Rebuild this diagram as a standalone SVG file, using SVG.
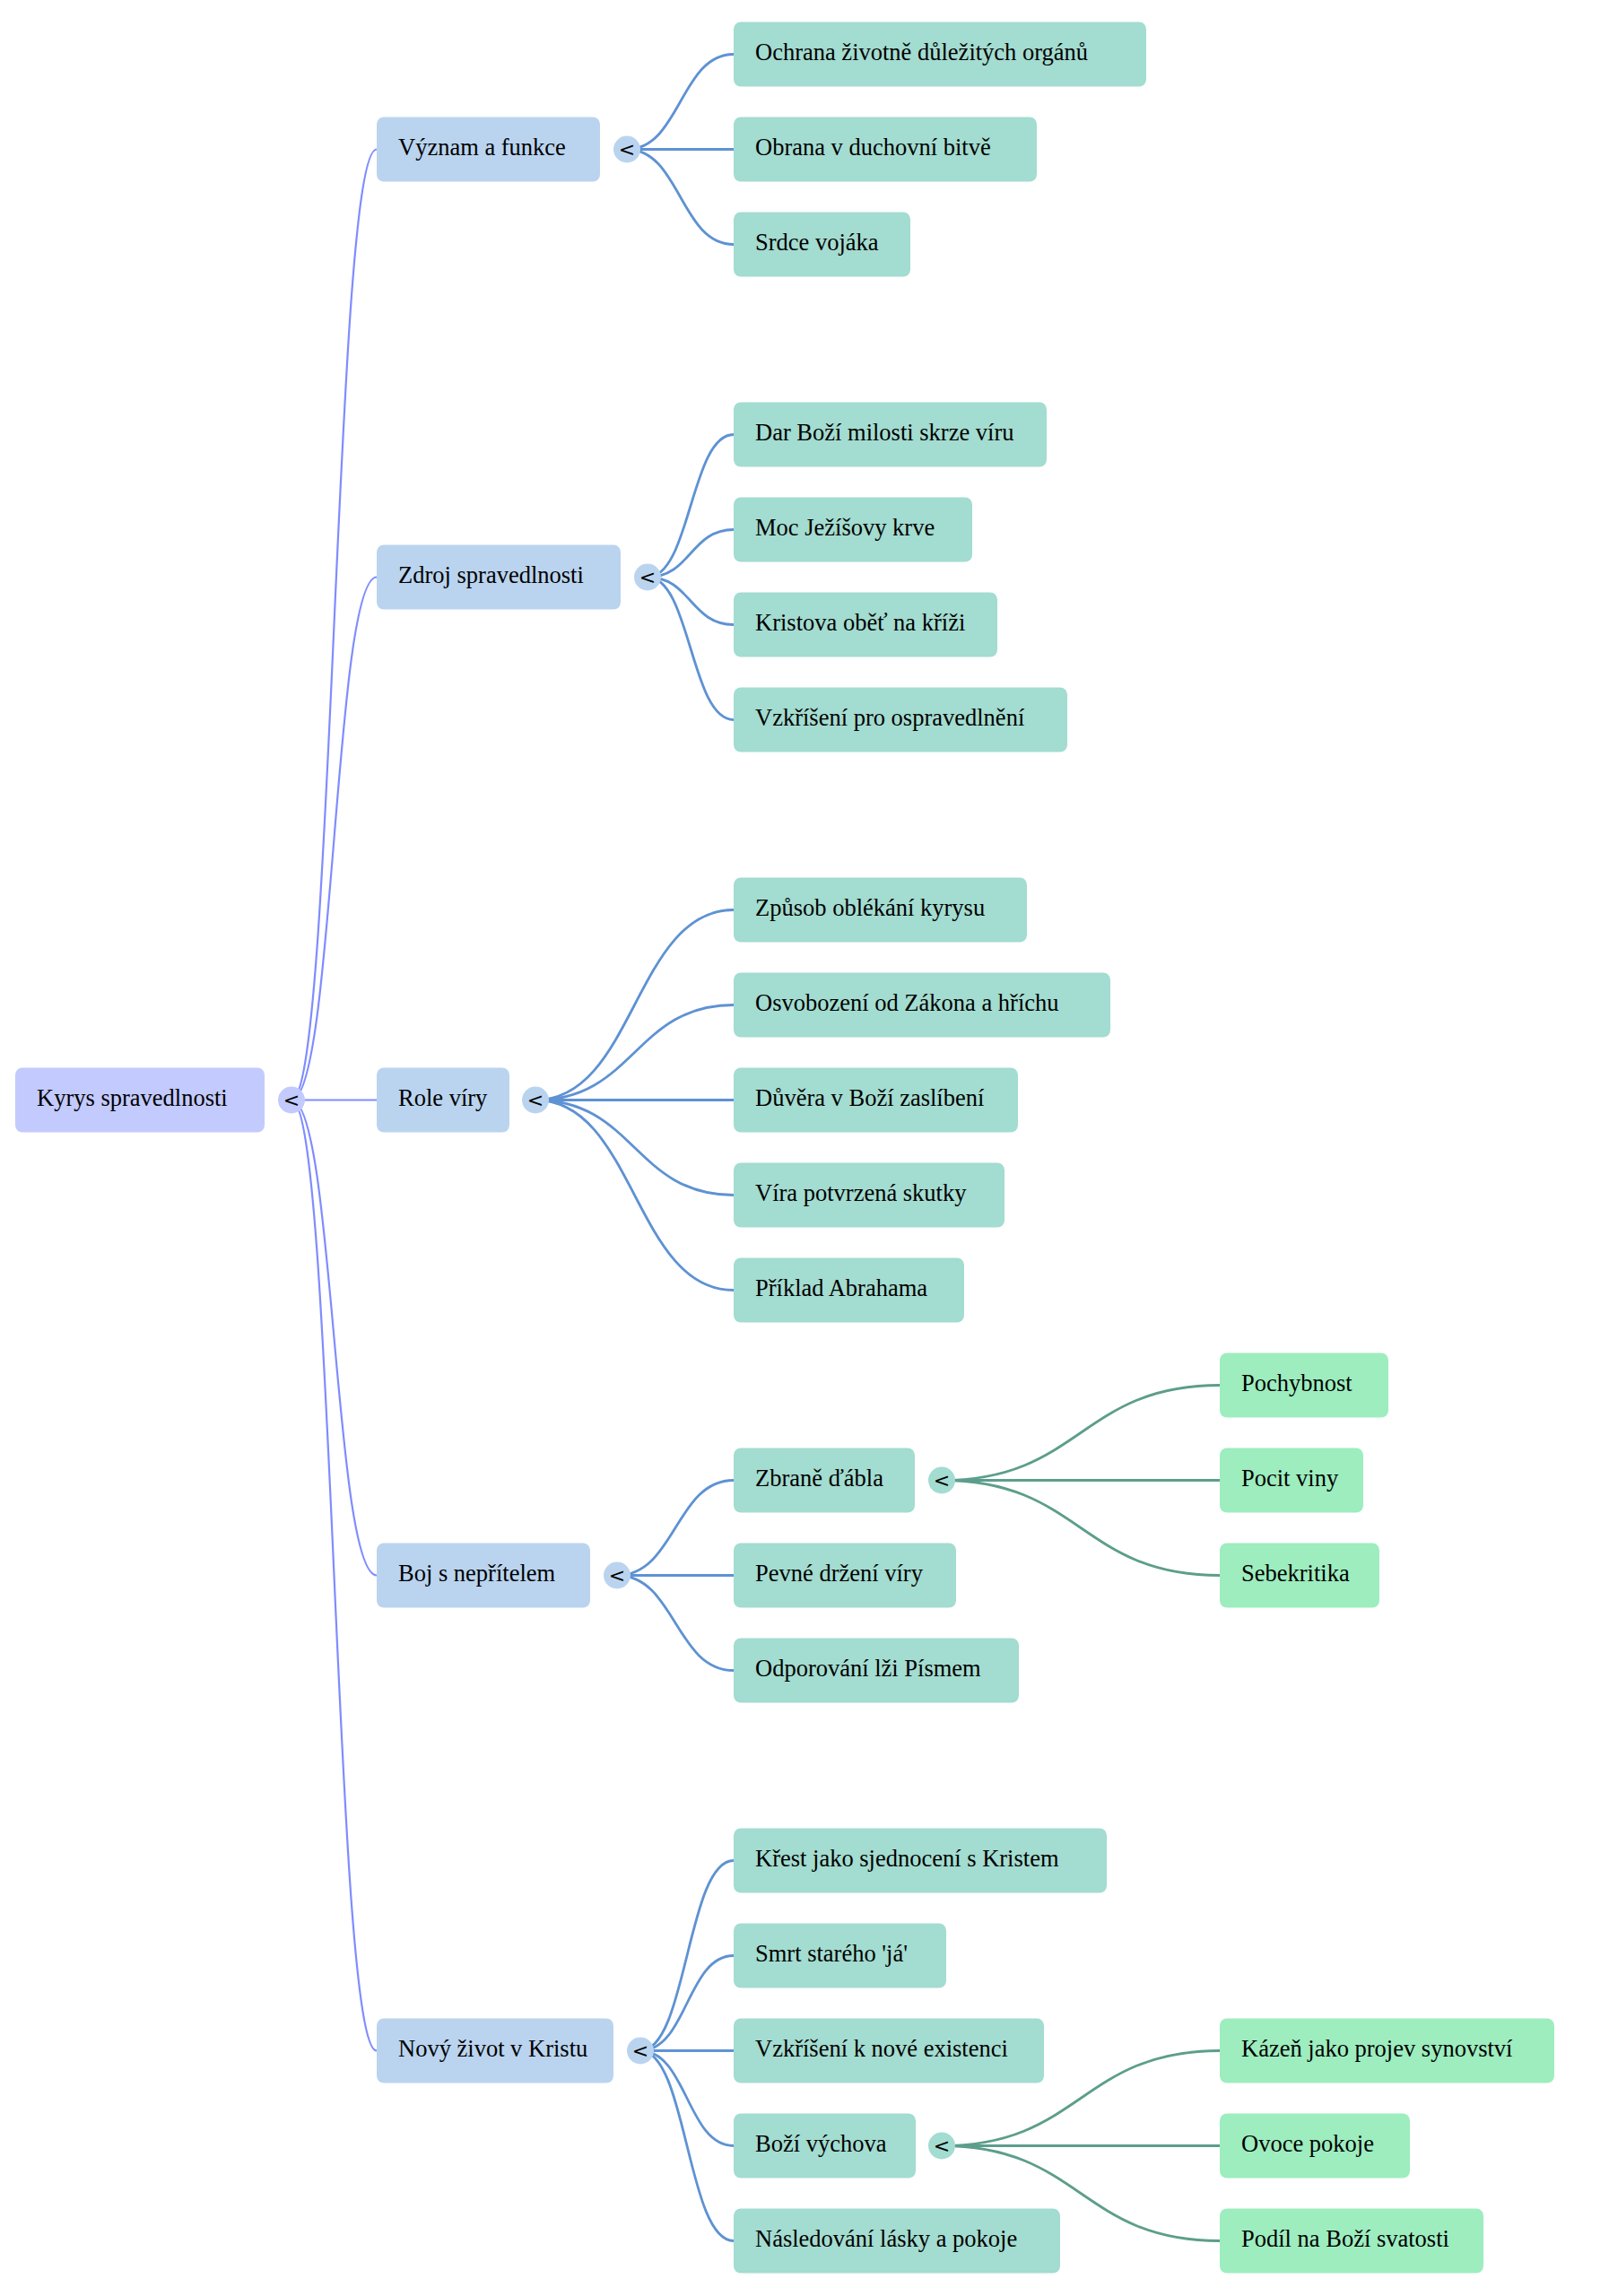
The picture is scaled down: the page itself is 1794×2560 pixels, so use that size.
<svg xmlns="http://www.w3.org/2000/svg" width="1794" height="2560" viewBox="0 0 1794 2560">
<style>
.t{font-family:"Liberation Serif","Times New Roman",serif;font-size:26.5px;fill:#000}
.c{font-family:"DejaVu Sans",sans-serif;font-size:22px;fill:#000;text-anchor:middle}
.n0{fill:#C3CAFE}
.n1{fill:#BAD4EF}
.n2{fill:#A3DCD0}
.n3{fill:#9DEDBF}
.e0{fill:none;stroke:#7F8CFF;stroke-width:2.2}
.e1{fill:none;stroke:#5E92D3;stroke-width:2.8}
.e2{fill:none;stroke:#5C9E8B;stroke-width:2.8}
</style>
<rect width="1794" height="2560" fill="#fff"/>
<g id="connectors">
<path class="e0" d="M325,1226.5 C372.5,1226.5 372.5,166.5 420,166.5"/>
<path class="e0" d="M325,1226.5 C372.5,1226.5 372.5,643.5 420,643.5"/>
<path class="e0" d="M325,1226.5 L420,1226.5"/>
<path class="e0" d="M325,1226.5 C372.5,1226.5 372.5,1756.5 420,1756.5"/>
<path class="e0" d="M325,1226.5 C372.5,1226.5 372.5,2286.5 420,2286.5"/>
<path class="e1" d="M699,166.5 C758.5,166.5 758.5,60.5 818,60.5"/>
<path class="e1" d="M699,166.5 L818,166.5"/>
<path class="e1" d="M699,166.5 C758.5,166.5 758.5,272.5 818,272.5"/>
<path class="e1" d="M722,643.5 C770,643.5 770,484.5 818,484.5"/>
<path class="e1" d="M722,643.5 C770,643.5 770,590.5 818,590.5"/>
<path class="e1" d="M722,643.5 C770,643.5 770,696.5 818,696.5"/>
<path class="e1" d="M722,643.5 C770,643.5 770,802.5 818,802.5"/>
<path class="e1" d="M597,1226.5 C707.5,1226.5 707.5,1014.5 818,1014.5"/>
<path class="e1" d="M597,1226.5 C707.5,1226.5 707.5,1120.5 818,1120.5"/>
<path class="e1" d="M597,1226.5 L818,1226.5"/>
<path class="e1" d="M597,1226.5 C707.5,1226.5 707.5,1332.5 818,1332.5"/>
<path class="e1" d="M597,1226.5 C707.5,1226.5 707.5,1438.5 818,1438.5"/>
<path class="e1" d="M688,1756.5 C753,1756.5 753,1650.5 818,1650.5"/>
<path class="e1" d="M688,1756.5 L818,1756.5"/>
<path class="e1" d="M688,1756.5 C753,1756.5 753,1862.5 818,1862.5"/>
<path class="e1" d="M714,2286.5 C766,2286.5 766,2074.5 818,2074.5"/>
<path class="e1" d="M714,2286.5 C766,2286.5 766,2180.5 818,2180.5"/>
<path class="e1" d="M714,2286.5 L818,2286.5"/>
<path class="e1" d="M714,2286.5 C766,2286.5 766,2392.5 818,2392.5"/>
<path class="e1" d="M714,2286.5 C766,2286.5 766,2498.5 818,2498.5"/>
<path class="e2" d="M1050,1650.5 C1205,1650.5 1205,1544.5 1360,1544.5"/>
<path class="e2" d="M1050,1650.5 L1360,1650.5"/>
<path class="e2" d="M1050,1650.5 C1205,1650.5 1205,1756.5 1360,1756.5"/>
<path class="e2" d="M1050,2392.5 C1205,2392.5 1205,2286.5 1360,2286.5"/>
<path class="e2" d="M1050,2392.5 L1360,2392.5"/>
<path class="e2" d="M1050,2392.5 C1205,2392.5 1205,2498.5 1360,2498.5"/>
</g>
<g id="root"><rect class="n0" x="17" y="1190.5" width="278" height="72" rx="8"/><text class="t" x="41" y="1233">Kyrys spravedlnosti</text><circle class="n0" cx="325" cy="1226.5" r="15"/><text class="c" x="325" y="1234">&lt;</text></g>
<g id="n-vyznam"><rect class="n1" x="420" y="130.5" width="249" height="72" rx="8"/><text class="t" x="444" y="173">Význam a funkce</text><circle class="n1" cx="699" cy="166.5" r="15"/><text class="c" x="699" y="174">&lt;</text></g>
<g id="n-zdroj"><rect class="n1" x="420" y="607.5" width="272" height="72" rx="8"/><text class="t" x="444" y="650">Zdroj spravedlnosti</text><circle class="n1" cx="722" cy="643.5" r="15"/><text class="c" x="722" y="651">&lt;</text></g>
<g id="n-role"><rect class="n1" x="420" y="1190.5" width="148" height="72" rx="8"/><text class="t" x="444" y="1233">Role víry</text><circle class="n1" cx="597" cy="1226.5" r="15"/><text class="c" x="597" y="1234">&lt;</text></g>
<g id="n-boj"><rect class="n1" x="420" y="1720.5" width="238" height="72" rx="8"/><text class="t" x="444" y="1763">Boj s nepřítelem</text><circle class="n1" cx="688" cy="1756.5" r="15"/><text class="c" x="688" y="1764">&lt;</text></g>
<g id="n-novy"><rect class="n1" x="420" y="2250.5" width="264" height="72" rx="8"/><text class="t" x="444" y="2293">Nový život v Kristu</text><circle class="n1" cx="714" cy="2286.5" r="15"/><text class="c" x="714" y="2294">&lt;</text></g>
<g id="l-ochrana"><rect class="n2" x="818" y="24.5" width="460" height="72" rx="8"/><text class="t" x="842" y="67">Ochrana životně důležitých orgánů</text></g>
<g id="l-obrana"><rect class="n2" x="818" y="130.5" width="338" height="72" rx="8"/><text class="t" x="842" y="173">Obrana v duchovní bitvě</text></g>
<g id="l-srdce"><rect class="n2" x="818" y="236.5" width="197" height="72" rx="8"/><text class="t" x="842" y="279">Srdce vojáka</text></g>
<g id="l-dar"><rect class="n2" x="818" y="448.5" width="349" height="72" rx="8"/><text class="t" x="842" y="491">Dar Boží milosti skrze víru</text></g>
<g id="l-moc"><rect class="n2" x="818" y="554.5" width="266" height="72" rx="8"/><text class="t" x="842" y="597">Moc Ježíšovy krve</text></g>
<g id="l-kristova"><rect class="n2" x="818" y="660.5" width="294" height="72" rx="8"/><text class="t" x="842" y="703">Kristova oběť na kříži</text></g>
<g id="l-vzkriseni1"><rect class="n2" x="818" y="766.5" width="372" height="72" rx="8"/><text class="t" x="842" y="809">Vzkříšení pro ospravedlnění</text></g>
<g id="l-zpusob"><rect class="n2" x="818" y="978.5" width="327" height="72" rx="8"/><text class="t" x="842" y="1021">Způsob oblékání kyrysu</text></g>
<g id="l-osvobozeni"><rect class="n2" x="818" y="1084.5" width="420" height="72" rx="8"/><text class="t" x="842" y="1127">Osvobození od Zákona a hříchu</text></g>
<g id="l-duvera"><rect class="n2" x="818" y="1190.5" width="317" height="72" rx="8"/><text class="t" x="842" y="1233">Důvěra v Boží zaslíbení</text></g>
<g id="l-vira"><rect class="n2" x="818" y="1296.5" width="302" height="72" rx="8"/><text class="t" x="842" y="1339">Víra potvrzená skutky</text></g>
<g id="l-priklad"><rect class="n2" x="818" y="1402.5" width="257" height="72" rx="8"/><text class="t" x="842" y="1445">Příklad Abrahama</text></g>
<g id="n-zbrane"><rect class="n2" x="818" y="1614.5" width="202" height="72" rx="8"/><text class="t" x="842" y="1657">Zbraně ďábla</text><circle class="n2" cx="1050" cy="1650.5" r="15"/><text class="c" x="1050" y="1658">&lt;</text></g>
<g id="l-pevne"><rect class="n2" x="818" y="1720.5" width="248" height="72" rx="8"/><text class="t" x="842" y="1763">Pevné držení víry</text></g>
<g id="l-odporovani"><rect class="n2" x="818" y="1826.5" width="318" height="72" rx="8"/><text class="t" x="842" y="1869">Odporování lži Písmem</text></g>
<g id="l-krest"><rect class="n2" x="818" y="2038.5" width="416" height="72" rx="8"/><text class="t" x="842" y="2081">Křest jako sjednocení s Kristem</text></g>
<g id="l-smrt"><rect class="n2" x="818" y="2144.5" width="237" height="72" rx="8"/><text class="t" x="842" y="2187">Smrt starého 'já'</text></g>
<g id="l-vzkriseni2"><rect class="n2" x="818" y="2250.5" width="346" height="72" rx="8"/><text class="t" x="842" y="2293">Vzkříšení k nové existenci</text></g>
<g id="n-vychova"><rect class="n2" x="818" y="2356.5" width="203" height="72" rx="8"/><text class="t" x="842" y="2399">Boží výchova</text><circle class="n2" cx="1050" cy="2392.5" r="15"/><text class="c" x="1050" y="2400">&lt;</text></g>
<g id="l-nasledovani"><rect class="n2" x="818" y="2462.5" width="364" height="72" rx="8"/><text class="t" x="842" y="2505">Následování lásky a pokoje</text></g>
<g id="l-pochybnost"><rect class="n3" x="1360" y="1508.5" width="188" height="72" rx="8"/><text class="t" x="1384" y="1551">Pochybnost</text></g>
<g id="l-pocit"><rect class="n3" x="1360" y="1614.5" width="160" height="72" rx="8"/><text class="t" x="1384" y="1657">Pocit viny</text></g>
<g id="l-sebekritika"><rect class="n3" x="1360" y="1720.5" width="178" height="72" rx="8"/><text class="t" x="1384" y="1763">Sebekritika</text></g>
<g id="l-kazen"><rect class="n3" x="1360" y="2250.5" width="373" height="72" rx="8"/><text class="t" x="1384" y="2293">Kázeň jako projev synovství</text></g>
<g id="l-ovoce"><rect class="n3" x="1360" y="2356.5" width="212" height="72" rx="8"/><text class="t" x="1384" y="2399">Ovoce pokoje</text></g>
<g id="l-podil"><rect class="n3" x="1360" y="2462.5" width="294" height="72" rx="8"/><text class="t" x="1384" y="2505">Podíl na Boží svatosti</text></g>
</svg>
